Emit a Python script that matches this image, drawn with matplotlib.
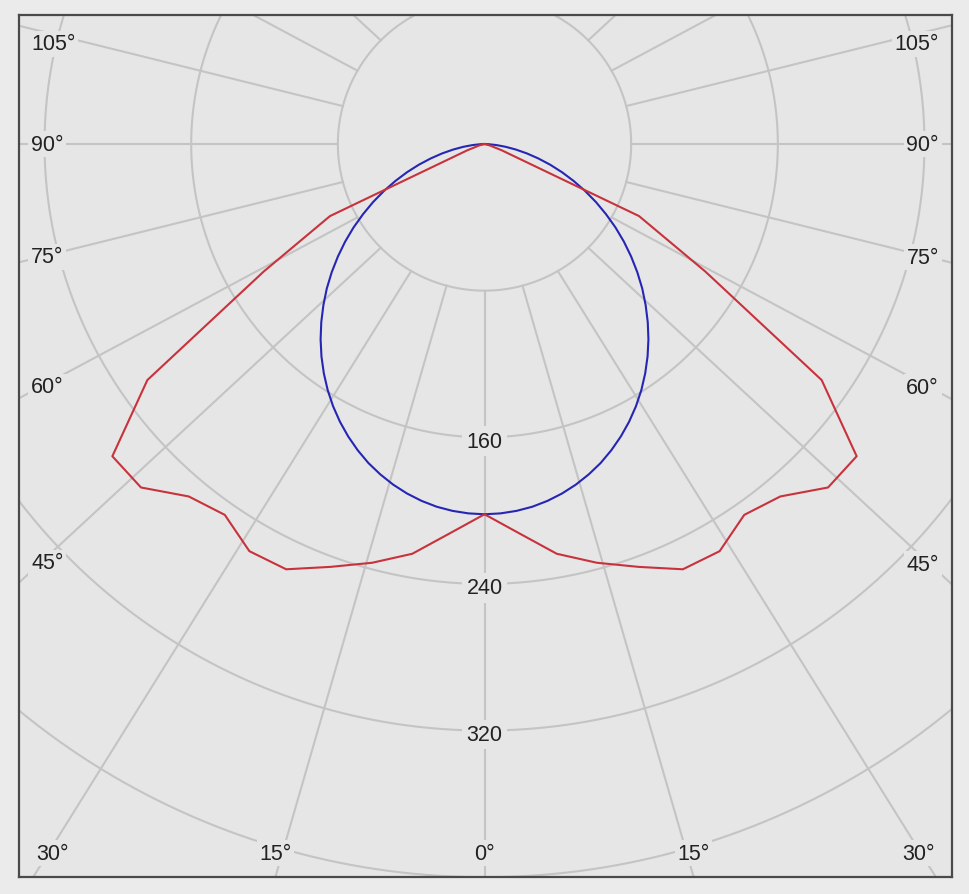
import numpy as np
import matplotlib.pyplot as plt

# luminous intensity (cd), gamma 0..90 deg, mirrored left/right
gamma_red = [0, 5, 10, 15, 20, 25, 30, 35, 40, 45, 50, 55, 60, 65, 70, 75, 80, 85, 90]
red_cd = [202, 213, 227, 236.5, 245.5, 256, 256.5, 247, 251, 265, 265, 224.5, 139, 93, 10, 3, 0, 0, 0]

gamma_blue = [0, 2.5, 5, 7.5, 10, 12.5, 15, 17.5, 20, 22.5, 25, 27.5, 30, 32.5, 35, 37.5,
              40, 42.5, 45, 47.5, 50, 52.5, 55, 57.5, 60, 62.5, 65, 67.5, 70, 72.5, 75,
              77.5, 80, 82.5, 85, 87.5, 90]
blue_cd = [202, 201.7, 200.9, 199.6, 197.7, 195.3, 192.4, 189.0, 185.2, 180.8, 176.0, 170.8,
           165.2, 159.2, 152.8, 146.1, 139.1, 131.8, 124.3, 116.7, 108.8, 100.8, 92.8, 84.7,
           76.5, 68.5, 60.5, 52.6, 45.0, 37.6, 30.4, 23.7, 17.4, 11.7, 6.6, 2.5, 0]

rings = [80, 160, 240, 320, 400]
ring_labels = ['', '160', '240', '320', '']
spokes = [0, 15, 30, 45, 60, 75, 90, 105, 120, 135, 150, 165, 180]
labelled = [0, 15, 30, 45, 60, 75, 90, 105]

plt.rcParams['font.family'] = ['Liberation Sans', 'DejaVu Sans']

BG = '#e6e6e6'
GRID = '#c4c4c4'
px = 1 / 1.833          # one pixel in cd units
xmin, xmax = -254.2, 255.0
ymin, ymax = -399.9, 70.4
k = 1.08                # spokes fan out a little wider than true angle in the original

fig = plt.figure(figsize=(9.69, 8.95), dpi=100, facecolor='#ebebeb')
ax = fig.add_axes([18.5 / 969, 17 / 895, 933.5 / 969, 862 / 895])
ax.set_facecolor(BG)
ax.set_xlim(xmin, xmax)
ax.set_ylim(ymin, ymax)
ax.set_xticks([])
ax.set_yticks([])
for sp in ax.spines.values():
    sp.set_color('#4a4a4a')
    sp.set_linewidth(1.6)

# rings
t = np.linspace(0, 2 * np.pi, 721)
for r in rings:
    ax.plot(r * np.cos(t), r * np.sin(t), color=GRID, lw=1.5, zorder=1)

# spokes, starting at the inner ring
def spoke(g, side):
    a = np.radians(g)
    x0, y0 = side * rings[0] * np.sin(a), -rings[0] * np.cos(a)
    dx, dy = side * k * np.sin(a), -np.cos(a)
    return x0, y0, dx, dy

for g in spokes:
    for side in ([1] if g in (0, 180) else [-1, 1]):
        x0, y0, dx, dy = spoke(g, side)
        ax.plot([x0, x0 + 1500 * dx], [y0, y0 + 1500 * dy], color=GRID, lw=1.5, zorder=1)

# curves (one half plane, mirrored)
def curve(gam, vals):
    a = np.radians(gam)
    v = np.array(vals, dtype=float)
    x = np.concatenate([-(v * np.sin(a))[::-1], (v * np.sin(a))[1:]])
    y = np.concatenate([-(v * np.cos(a))[::-1], -(v * np.cos(a))[1:]])
    return x, y

bx, by = curve(gamma_blue, blue_cd)
rx, ry = curve(gamma_red, red_cd)
ax.plot(bx, by, color='#2626b4', lw=1.5, zorder=3, solid_joinstyle='round')
ax.plot(rx, ry, color='#c8323c', lw=1.5, zorder=3)

box = dict(boxstyle='square,pad=0.12', fc=BG, ec='none')
fs = 15.5

# ring labels on the 0 deg spoke
for r, lab in zip(rings, ring_labels):
    if lab:
        ax.text(0, -r - 4 * px, lab, ha='center', va='center', fontsize=fs,
                color='#222222', zorder=5,
                bbox=dict(boxstyle='square,pad=0.2', fc=BG, ec='none'))

# angle labels where spokes leave the frame
for g in labelled:
    for side in ([1] if g == 0 else [-1, 1]):
        x0, y0, dx, dy = spoke(g, side)
        ts = []
        if dx != 0:
            ts.append(((xmax if dx > 0 else xmin) - x0) / dx)
        if dy < 0:
            ts.append((ymin - y0) / dy)
        tt = min(ts)
        xh, yh = x0 + tt * dx, y0 + tt * dy
        lab = '%d°' % g
        if abs(yh - ymin) < 1e-6:
            xl = np.clip(xh, xmin + 34 * px, xmax - 34 * px)
            ax.text(xl, ymin + 24 * px, lab, ha='center', va='center', fontsize=fs,
                    color='#222222', zorder=5, bbox=box)
        else:
            xin = xh - side * 22 * px
            yl = y0 + (xin - x0) / dx * dy
            yl = min(yl, ymax - 29 * px)
            if side < 0:
                ax.text(xmin + 12.5 * px, yl, lab, ha='left', va='center', fontsize=fs,
                        color='#222222', zorder=5, bbox=box)
            else:
                ax.text(xmax - 13 * px, yl, lab, ha='right', va='center', fontsize=fs,
                        color='#222222', zorder=5, bbox=box)

fig.savefig('out.png', dpi=100, facecolor=fig.get_facecolor())
